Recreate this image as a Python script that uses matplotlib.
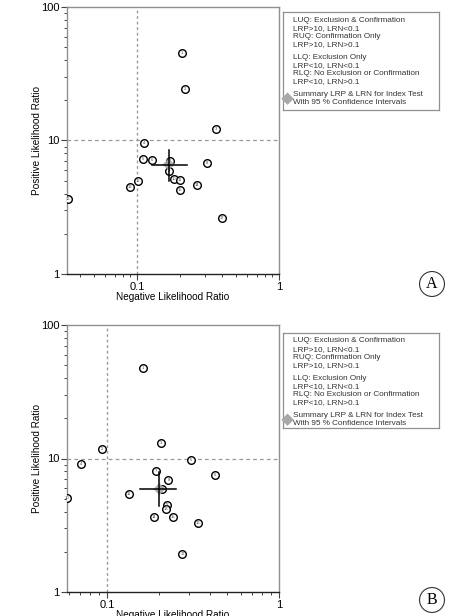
import numpy as np
import matplotlib
matplotlib.use('Agg')
import matplotlib.pyplot as plt
from matplotlib.ticker import FixedLocator, FixedFormatter, LogLocator, NullFormatter

plt.rcParams['font.family'] = ['Liberation Sans', 'DejaVu Sans']

# Panel A: negative / positive likelihood ratios per study
lrn_a = [0.207, 0.219, 0.359, 0.113, 0.110, 0.127, 0.171, 0.313, 0.167,
         0.181, 0.200, 0.102, 0.0893, 0.266, 0.201, 0.0326, 0.400]
lrp_a = [44.9, 24.4, 12.2, 9.6, 7.33, 7.17, 6.97, 6.84, 5.86,
         5.11, 5.02, 5.01, 4.50, 4.68, 4.27, 3.66, 2.61]
summary_a = (0.167, 6.61)
ci_lrn_a = (0.127, 0.224)
ci_lrp_a = (4.95, 8.47)

# Panel B
lrn_b = [0.162, 0.0935, 0.207, 0.0712, 0.310, 0.423, 0.194, 0.228, 0.208,
         0.059, 0.134, 0.225, 0.221, 0.187, 0.241, 0.340, 0.275]
lrp_b = [47.4, 11.7, 13.0, 9.12, 9.77, 7.50, 8.08, 6.88, 5.93,
         5.05, 5.38, 4.48, 4.20, 3.66, 3.66, 3.30, 1.94]
summary_b = (0.202, 5.90)
ci_lrn_b = (0.155, 0.251)
ci_lrp_b = (4.37, 7.86)

legend_lines = [
    ['LUQ: Exclusion & Confirmation', 'LRP>10, LRN<0.1',
     'RUQ: Confirmation Only', 'LRP>10, LRN>0.1'],
    ['LLQ: Exclusion Only', 'LRP<10, LRN<0.1',
     'RLQ: No Exclusion or Confirmation', 'LRP<10, LRN>0.1'],
    ['Summary LRP & LRN for Index Test', 'With 95 % Confidence Intervals'],
]

W, H = 462, 616
fig = plt.figure(figsize=(W / 100, H / 100), dpi=100)


def px_rect(x0, y0, x1, y1):
    # pixel box (top-left origin) -> figure fraction rect
    return [x0 / W, 1 - y1 / H, (x1 - x0) / W, (y1 - y0) / H]


def draw_panel(rect, lrn, lrp, summ, ci_x, ci_y, xmin):
    ax = fig.add_axes(rect)
    ax.set_xscale('log')
    ax.set_yscale('log')
    ax.set_xlim(xmin, 1)
    ax.set_ylim(1, 100)

    ax.axvline(0.1, color='#9a9a9a', lw=1, ls=(0, (2, 2)), zorder=1)
    ax.axhline(10, color='#9a9a9a', lw=0.9, ls=(0, (3, 2.5)), zorder=1)

    ax.scatter(lrn, lrp, s=30, facecolor='white', edgecolor='black',
               linewidth=1.0, zorder=3)
    for i, (x, y) in enumerate(zip(lrn, lrp)):
        ax.text(x, y, str(i + 1), fontsize=3, ha='center', va='center',
                color='#444444', zorder=4)

    ax.plot(ci_x, [summ[1], summ[1]], color='black', lw=1.1, zorder=5)
    ax.plot([summ[0], summ[0]], ci_y, color='black', lw=1.1, zorder=5)
    ax.scatter([summ[0]], [summ[1]], marker='D', s=38, color='#a8a8a8',
               edgecolor='none', zorder=4, alpha=0.9)

    ax.yaxis.set_major_locator(FixedLocator([1, 10, 100]))
    ax.yaxis.set_major_formatter(FixedFormatter(['1', '10', '100']))
    ax.xaxis.set_major_locator(FixedLocator([0.1, 1]))
    ax.xaxis.set_major_formatter(FixedFormatter(['0.1', '1']))
    ax.yaxis.set_minor_locator(LogLocator(base=10, subs=np.arange(2, 10)))
    ax.xaxis.set_minor_locator(LogLocator(base=10, subs=np.arange(2, 10)))
    ax.xaxis.set_minor_formatter(NullFormatter())
    ax.yaxis.set_minor_formatter(NullFormatter())
    ax.tick_params(which='major', length=4, width=0.8, labelsize=8,
                   color='#444444', pad=1.5)
    ax.tick_params(which='minor', length=2.5, width=0.7, color='#444444')

    for side in ['top', 'right', 'left']:
        ax.spines[side].set_color('#909090')
        ax.spines[side].set_linewidth(1)
    ax.spines['bottom'].set_color('#222222')
    ax.spines['bottom'].set_linewidth(1)

    ax.set_xlabel('Negative Likelihood Ratio', fontsize=7.2, labelpad=0)
    ax.set_ylabel('Positive Likelihood Ratio', fontsize=7.2, labelpad=-1)
    return ax


def draw_legend(x0, y0, x1, y1):
    lax = fig.add_axes(px_rect(x0, y0, x1, y1))
    lax.set_xlim(0, x1 - x0)
    lax.set_ylim(y1 - y0, 0)
    lax.set_xticks([])
    lax.set_yticks([])
    for sp in lax.spines.values():
        sp.set_color('#909090')
        sp.set_linewidth(0.9)
    lax.patch.set_alpha(0)
    step, gap = 8.2, 4.5
    y = 8.0
    for g, group in enumerate(legend_lines):
        for line in group:
            lax.text(10, y, line, fontsize=5.9, va='center', ha='left',
                     color='#333333')
            y += step
        y += gap
    # summary marker sits on the left edge of the box
    lax.scatter([4.5], [y - gap - 1.5 * step], marker='D', s=40,
                color='#a8a8a8', edgecolor='none', clip_on=False, zorder=5)


draw_panel(px_rect(67, 7, 279, 274), lrn_a, lrp_a, summary_a,
           ci_lrn_a, ci_lrp_a, 0.0322)
draw_legend(283, 12, 439, 110)

draw_panel(px_rect(67, 325, 279, 592), lrn_b, lrp_b, summary_b,
           ci_lrn_b, ci_lrp_b, 0.0587)
draw_legend(283, 333, 439, 428)

for label, ypx in [('A', 284), ('B', 600)]:
    fig.text(432 / W, 1 - ypx / H, label, fontsize=11.5, ha='center',
             va='center', family=['Liberation Serif', 'DejaVu Serif'],
             bbox=dict(boxstyle='circle,pad=0.28', fc='white', ec='#333333',
                       lw=0.8))

fig.savefig('out.png', dpi=100)
